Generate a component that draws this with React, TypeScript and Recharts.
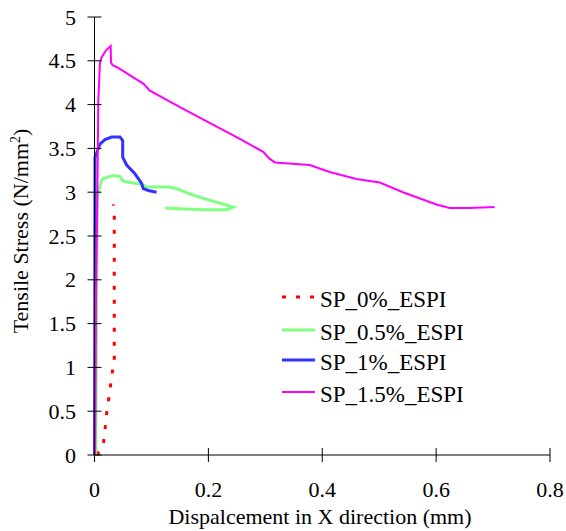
import { LineChart, Line, XAxis, YAxis, Legend } from 'recharts'

// displacement (mm) / stress (N/mm2) pairs
const sp0 = [
  { x: 0.004, y: 0 },
  { x: 0.0154, y: 0.114 },
  { x: 0.0184, y: 0.285 },
  { x: 0.0214, y: 0.479 },
  { x: 0.0242, y: 0.608 },
  { x: 0.0272, y: 0.741 },
  { x: 0.0302, y: 0.912 },
  { x: 0.0347, y: 1.064 },
  { x: 0.0347, y: 1.767 },
  { x: 0.0347, y: 2.737 },
  { x: 0.033, y: 2.862 },
]

const sp05 = [
  { x: 0.002, y: 0 },
  { x: 0.0035, y: 1.77 },
  { x: 0.005, y: 2.91 },
  { x: 0.0067, y: 3.0 },
  { x: 0.0126, y: 3.14 },
  { x: 0.0214, y: 3.17 },
  { x: 0.033, y: 3.19 },
  { x: 0.0447, y: 3.18 },
  { x: 0.0495, y: 3.13 },
  { x: 0.0535, y: 3.12 },
  { x: 0.0828, y: 3.09 },
  { x: 0.0916, y: 3.06 },
  { x: 0.1325, y: 3.06 },
  { x: 0.144, y: 3.04 },
  { x: 0.1675, y: 2.98 },
  { x: 0.191, y: 2.93 },
  { x: 0.2435, y: 2.83 },
  { x: 0.232, y: 2.8 },
  { x: 0.191, y: 2.8 },
  { x: 0.15, y: 2.81 },
  { x: 0.1237, y: 2.82 },
]

const sp1 = [
  { x: 0, y: 0 },
  { x: 0.0005, y: 1.77 },
  { x: 0.0009, y: 3.4 },
  { x: 0.0096, y: 3.55 },
  { x: 0.0184, y: 3.6 },
  { x: 0.0302, y: 3.63 },
  { x: 0.0447, y: 3.63 },
  { x: 0.0495, y: 3.59 },
  { x: 0.0495, y: 3.4 },
  { x: 0.0565, y: 3.31 },
  { x: 0.071, y: 3.21 },
  { x: 0.0828, y: 3.1 },
  { x: 0.0856, y: 3.04 },
  { x: 0.0944, y: 3.02 },
  { x: 0.109, y: 3.0 },
]

const sp15 = [
  { x: 0.001, y: 0 },
  { x: 0.0026, y: 1.77 },
  { x: 0.0049, y: 2.91 },
  { x: 0.0067, y: 4.05 },
  { x: 0.0096, y: 4.48 },
  { x: 0.0126, y: 4.54 },
  { x: 0.0202, y: 4.62 },
  { x: 0.0284, y: 4.67 },
  { x: 0.029, y: 4.48 },
  { x: 0.0319, y: 4.45 },
  { x: 0.0418, y: 4.42 },
  { x: 0.068, y: 4.31 },
  { x: 0.0856, y: 4.24 },
  { x: 0.0974, y: 4.16 },
  { x: 0.15, y: 3.97 },
  { x: 0.2553, y: 3.61 },
  { x: 0.2961, y: 3.46 },
  { x: 0.3079, y: 3.38 },
  { x: 0.3167, y: 3.34 },
  { x: 0.3781, y: 3.31 },
  { x: 0.413, y: 3.23 },
  { x: 0.46, y: 3.15 },
  { x: 0.5009, y: 3.11 },
  { x: 0.5418, y: 3.0 },
  { x: 0.6004, y: 2.86 },
  { x: 0.6237, y: 2.82 },
  { x: 0.6588, y: 2.82 },
  { x: 0.7026, y: 2.83 },
]

const xTicks = [0, 0.2, 0.4, 0.6, 0.8]
const yTicks = [0, 0.5, 1, 1.5, 2, 2.5, 3, 3.5, 4, 4.5, 5]

const series = [
  { name: 'SP_0%_ESPI', data: sp0, color: '#ff0000', width: 3, dash: '4 10' },
  { name: 'SP_0.5%_ESPI', data: sp05, color: '#80ff80', width: 3, dash: undefined },
  { name: 'SP_1%_ESPI', data: sp1, color: '#3333ff', width: 3, dash: undefined },
  { name: 'SP_1.5%_ESPI', data: sp15, color: '#ff00ff', width: 2, dash: undefined },
]

const FONT = '"Liberation Serif", "Times New Roman", serif'
const txt = { fontFamily: FONT, fontSize: 22 }
const W = 566
const H = 531
const TOP = 17
const RIGHT = 16
const AXIS_X = 94.5
const AXIS_Y = 455

function YTick(props: any) {
  const { y, payload } = props
  return (
    <g>
      <line x1={AXIS_X - 7} x2={AXIS_X + 7} y1={y} y2={y} stroke="#000" />
      <text x={76} y={y + 7.5} textAnchor="end" style={txt} fill="#000">
        {payload.value}
      </text>
    </g>
  )
}

function XTick(props: any) {
  const { x, payload } = props
  return (
    <g>
      <line x1={x} x2={x} y1={AXIS_Y - 7} y2={AXIS_Y + 7} stroke="#000" />
      <text x={x} y={497} textAnchor="middle" style={txt} fill="#000">
        {payload.value}
      </text>
    </g>
  )
}

function YLabel() {
  return (
    <text transform="translate(28, 231) rotate(-90)" textAnchor="middle" style={txt} fill="#000">
      Tensile Stress (N/mm
      <tspan dy={-8} style={{ fontSize: 14 }}>2</tspan>
      <tspan dy={8}>)</tspan>
    </text>
  )
}

function XLabel() {
  return (
    <text x={320} y={524} textAnchor="middle" style={txt} fill="#000">
      Dispalcement in X direction (mm)
    </text>
  )
}

function LegendBox() {
  const rows = [0, 33, 63, 95]
  return (
    <svg width={220} height={120} style={{ overflow: 'visible', display: 'block' }}>
      {series.map((s, i) => (
        <g key={s.name}>
          <line
            x1={0}
            x2={33}
            y1={rows[i] + 10}
            y2={rows[i] + 10}
            stroke={s.color}
            strokeWidth={s.width}
            strokeDasharray={s.dash}
          />
          <text x={38} y={rows[i] + 19.5} style={{ fontFamily: FONT, fontSize: 23 }} fill="#000">
            {s.name}
          </text>
        </g>
      ))}
    </svg>
  )
}

export default function App() {
  return (
    <div style={{ position: 'absolute', left: 0, top: 0, width: W, height: H, background: '#fff' }}>
      <LineChart width={W} height={H} margin={{ top: TOP, right: RIGHT, bottom: 0, left: 0 }}>
        <XAxis
          type="number"
          dataKey="x"
          domain={[0, 0.8]}
          ticks={xTicks}
          height={H - AXIS_Y}
          axisLine={{ stroke: '#000' }}
          tickLine={false}
          tick={<XTick />}
          label={<XLabel />}
          allowDuplicatedCategory={false}
        />
        <YAxis
          type="number"
          dataKey="y"
          domain={[0, 5]}
          ticks={yTicks}
          width={AXIS_X}
          axisLine={{ stroke: '#000' }}
          tickLine={false}
          tick={<YTick />}
          label={<YLabel />}
        />
        <Legend
          layout="vertical"
          align="center"
          verticalAlign="middle"
          content={<LegendBox />}
          wrapperStyle={{ position: 'absolute', left: 282, top: 287, width: 220, height: 120 }}
        />
        {series.map((s) => (
          <Line
            key={s.name}
            name={s.name}
            data={s.data}
            dataKey="y"
            type="linear"
            stroke={s.color}
            strokeWidth={s.width}
            strokeDasharray={s.dash}
            dot={false}
            activeDot={false}
            isAnimationActive={false}
          />
        ))}
      </LineChart>
    </div>
  )
}
